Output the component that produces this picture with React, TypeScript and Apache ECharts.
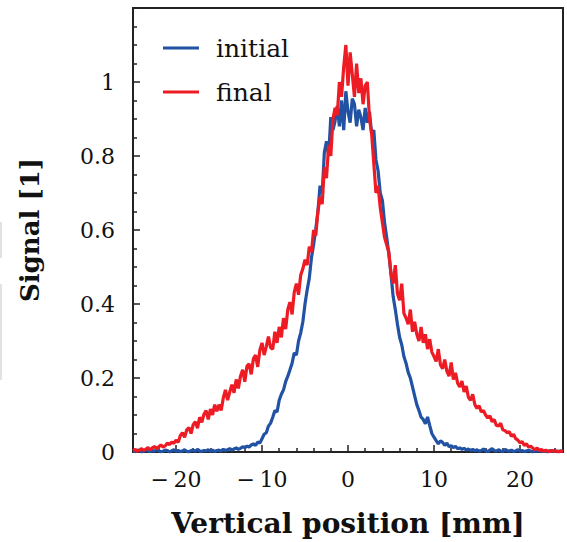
import React, { useEffect, useRef } from "react";
import * as echarts from "echarts";

// Sampling grid of the profiles (mm)
const xStart = -25;
const xStep = 0.25;

// Series values, one per 0.25 mm from -25 to 25
const initialSignal = [
  0.003, 0.001, 0.005, 0.004, 0.000, 0.002, 0.006, 0.003, 0.001, 0.004, 0.002, 0.007, 0.003, 0.001, 0.002, 0.005, 0.004, 0.000, 0.003, 0.006,
  0.002, 0.004, 0.001, 0.003, 0.006, 0.002, 0.000, 0.004, 0.005, 0.002, 0.007, 0.003, 0.001, 0.004, 0.003, 0.006, 0.002, 0.005, 0.001, 0.004,
  0.005, 0.003, 0.007, 0.004, 0.006, 0.009, 0.005, 0.008, 0.011, 0.007, 0.010, 0.014, 0.012, 0.016, 0.013, 0.019, 0.022, 0.018, 0.027, 0.024,
  0.036, 0.048, 0.052, 0.070, 0.078, 0.094, 0.112, 0.108, 0.140, 0.156, 0.168, 0.190, 0.205, 0.222, 0.240, 0.268, 0.262, 0.300, 0.322, 0.352,
  0.400, 0.438, 0.470, 0.525, 0.560, 0.602, 0.650, 0.720, 0.700, 0.810, 0.840, 0.800, 0.905, 0.870, 0.895, 0.935, 0.880, 0.950, 0.870, 0.975,
  0.920, 0.890, 0.955, 0.940, 0.880, 0.925, 0.905, 0.870, 0.930, 0.890, 0.920, 0.860, 0.870, 0.790, 0.760, 0.700, 0.680, 0.620, 0.580, 0.535,
  0.480, 0.420, 0.385, 0.345, 0.310, 0.290, 0.258, 0.240, 0.215, 0.200, 0.176, 0.152, 0.128, 0.112, 0.094, 0.088, 0.076, 0.095, 0.072, 0.050,
  0.040, 0.031, 0.022, 0.030, 0.026, 0.018, 0.024, 0.014, 0.017, 0.012, 0.015, 0.009, 0.011, 0.007, 0.010, 0.005, 0.008, 0.004, 0.007, 0.003,
  0.006, 0.002, 0.004, 0.008, 0.003, 0.001, 0.005, 0.009, 0.004, 0.002, 0.006, 0.003, 0.001, 0.007, 0.004, 0.002, 0.005, 0.001, 0.003, 0.006,
  0.002, 0.004, 0.001, 0.003, 0.005, 0.002, 0.000, 0.004, 0.002, 0.005, 0.001, 0.003, 0.002, 0.000, 0.004, 0.002, 0.003, 0.001, 0.002, 0.003,
  0.001,
];

const finalSignal = [
  0.004, 0.007, 0.002, 0.005, 0.009, 0.004, 0.008, 0.012, 0.006, 0.011, 0.015, 0.009, 0.014, 0.019, 0.013, 0.017, 0.024, 0.020, 0.027, 0.023,
  0.032, 0.026, 0.044, 0.052, 0.040, 0.060, 0.066, 0.050, 0.074, 0.082, 0.064, 0.094, 0.080, 0.102, 0.112, 0.088, 0.116, 0.100, 0.128, 0.110,
  0.128, 0.112, 0.146, 0.168, 0.140, 0.162, 0.182, 0.160, 0.196, 0.172, 0.205, 0.222, 0.190, 0.232, 0.238, 0.210, 0.252, 0.262, 0.230, 0.275,
  0.295, 0.262, 0.285, 0.312, 0.282, 0.278, 0.325, 0.295, 0.338, 0.310, 0.362, 0.332, 0.385, 0.405, 0.372, 0.432, 0.455, 0.425, 0.478, 0.495,
  0.520, 0.505, 0.555, 0.540, 0.600, 0.585, 0.650, 0.690, 0.670, 0.770, 0.740, 0.830, 0.800, 0.900, 0.930, 0.910, 1.000, 0.960, 1.040, 1.100,
  0.990, 1.080, 1.020, 0.960, 1.050, 0.970, 1.010, 0.940, 0.990, 1.000, 0.900, 0.860, 0.780, 0.700, 0.720, 0.660, 0.620, 0.580, 0.560, 0.540,
  0.482, 0.455, 0.505, 0.428, 0.410, 0.455, 0.375, 0.362, 0.345, 0.385, 0.325, 0.352, 0.318, 0.300, 0.338, 0.295, 0.318, 0.278, 0.305, 0.270,
  0.258, 0.245, 0.278, 0.236, 0.225, 0.250, 0.218, 0.205, 0.242, 0.196, 0.214, 0.186, 0.176, 0.192, 0.162, 0.178, 0.148, 0.140, 0.156, 0.128,
  0.118, 0.125, 0.108, 0.112, 0.100, 0.092, 0.098, 0.082, 0.088, 0.072, 0.070, 0.078, 0.060, 0.058, 0.052, 0.055, 0.042, 0.048, 0.036, 0.032,
  0.025, 0.028, 0.018, 0.022, 0.013, 0.016, 0.010, 0.006, 0.011, 0.004, 0.007, 0.002, 0.005, 0.003, 0.001, 0.004, 0.002, 0.003, 0.000, 0.002,
  0.002,
];

const seriesNames = ["initial", "final"];
const seriesColors = ["#2152a3", "#ed1c24"];
const xTickValues = [-20, -10, 0, 10, 20];
const xMinorTickValues = [-24, -22, -18, -16, -14, -12, -8, -6, -4, -2, 2, 4, 6, 8, 12, 14, 16, 18, 22, 24];
const xAxisName = "Vertical position [mm]";
const yAxisName = "Signal [1]";

const toPairs = (vals: number[]) => vals.map((v, i) => [xStart + i * xStep, v]);

const FONT = "DejaVu Serif";

export default function App() {
  const ref = useRef<HTMLDivElement>(null);

  useEffect(() => {
    if (!ref.current) return;
    const chart = echarts.init(ref.current, null, { renderer: "svg" });
    const axisColor = "#222";
    chart.setOption({
      animation: false,
      backgroundColor: "#fff",
      grid: {
        left: 133,
        right: 4,
        top: 8,
        bottom: 90,
        show: true,
        borderColor: axisColor,
        borderWidth: 2,
        backgroundColor: "transparent",
      },
      legend: {
        data: seriesNames,
        orient: "vertical",
        left: 158,
        top: 28,
        icon: "rect",
        itemWidth: 36,
        itemHeight: 3,
        itemGap: 14,
        textStyle: {
          fontFamily: FONT,
          fontSize: 25,
          color: "#111",
          lineHeight: 30,
          padding: [0, 0, 0, 12],
        },
      },
      xAxis: [
        {
          type: "value",
          min: -25,
          max: 25,
          name: xAxisName,
          nameLocation: "middle",
          nameGap: 57,
          nameTextStyle: { fontFamily: FONT, fontWeight: "bold", fontSize: 28, color: "#111" },
          axisLine: { show: true, onZero: false, lineStyle: { color: axisColor, width: 2 } },
          axisTick: { show: true, inside: true, length: 7, customValues: xTickValues, lineStyle: { color: axisColor, width: 1.5 } },
          axisLabel: {
            customValues: xTickValues,
            margin: 16,
            fontFamily: FONT,
            fontSize: 22,
            color: "#111",
            formatter: (v: number) => (v < 0 ? "\u2212\u2009" + Math.abs(v) : String(v)),
          },
          splitLine: { show: false },
        },
        {
          type: "value",
          min: -25,
          max: 25,
          position: "bottom",
          axisLine: { show: false, onZero: false },
          axisTick: { show: true, inside: true, length: 4, customValues: xMinorTickValues, lineStyle: { color: axisColor, width: 1.5 } },
          axisLabel: { show: false },
          splitLine: { show: false },
        },
      ],
      yAxis: {
        type: "value",
        min: 0,
        max: 1.2,
        interval: 0.2,
        position: "left",
        name: yAxisName,
        nameLocation: "middle",
        nameGap: 90,
        nameTextStyle: { fontFamily: FONT, fontWeight: "bold", fontSize: 26, color: "#111" },
        axisLine: { show: true, onZero: false, lineStyle: { color: axisColor, width: 2 } },
        axisTick: { show: true, inside: true, length: 7, lineStyle: { color: axisColor, width: 1.5 } },
        minorTick: { show: true, splitNumber: 4, length: 4, lineStyle: { color: axisColor, width: 1.5 } },
        axisLabel: {
          margin: 18,
          fontFamily: FONT,
          fontSize: 22,
          color: "#111",
          formatter: (v: number) => (v > 1.1 ? "" : String(Math.round(v * 10) / 10)),
        },
        splitLine: { show: false },
      },
      graphic: [
        { type: "rect", shape: { x: 0, y: 222, width: 2, height: 36 }, style: { fill: "#e2e2e2" }, silent: true },
        { type: "rect", shape: { x: 0, y: 284, width: 2, height: 96 }, style: { fill: "#e2e2e2" }, silent: true },
      ],
      series: [
        {
          name: seriesNames[0],
          type: "line",
          xAxisIndex: 0,
          data: toPairs(initialSignal),
          showSymbol: false,
          color: seriesColors[0],
          lineStyle: { color: seriesColors[0], width: 3.2 },
          z: 2,
        },
        {
          name: seriesNames[1],
          type: "line",
          xAxisIndex: 0,
          data: toPairs(finalSignal),
          showSymbol: false,
          color: seriesColors[1],
          lineStyle: { color: seriesColors[1], width: 3.2 },
          z: 3,
        },
      ],
    });
    return () => chart.dispose();
  }, []);

  return (
    <div
      ref={ref}
      style={{ position: "fixed", left: 0, top: 0, width: 567, height: 542 }}
    />
  );
}
